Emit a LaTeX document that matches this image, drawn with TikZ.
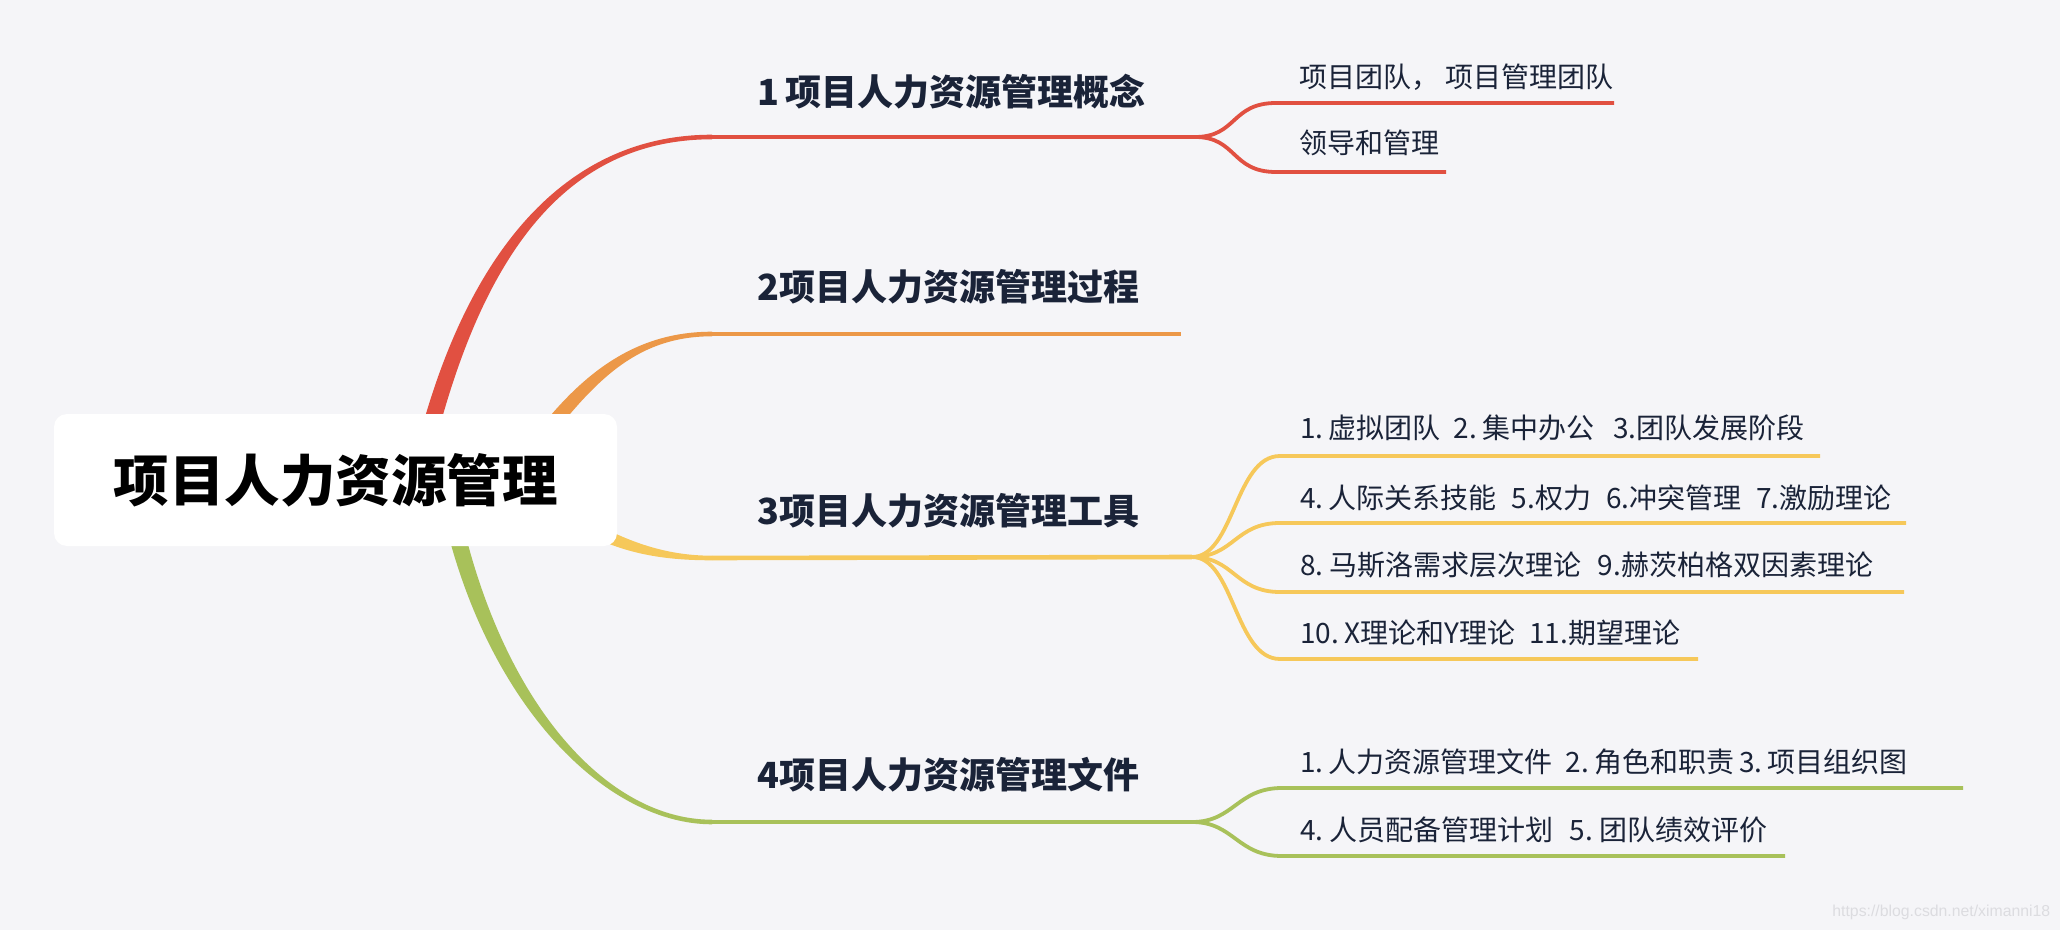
\documentclass[tikz,border=0pt]{standalone}
\usepackage{fontspec}
\setmainfont{Noto Sans CJK SC}
\newfontfamily\wmfont{Liberation Sans}
\usetikzlibrary{calc}
\definecolor{bgc}{HTML}{F5F5F8}
\definecolor{cred}{HTML}{E15041}
\definecolor{corange}{HTML}{EC9848}
\definecolor{cyellow}{HTML}{F6C85A}
\definecolor{cgreen}{HTML}{A8C15A}
\definecolor{ctext}{HTML}{1A2338}
\definecolor{cwm}{HTML}{DCDCE0}
\newcommand\taperbranch[7]{%
  \fill[#7] ($(#1)!#5!90:(#2)$) .. controls ($(#2)!#5!-90:(#1)$) and ($(#3)!#6!90:(#4)$) .. ($(#4)!#6!-90:(#3)$)
    -- ($(#4)!#6!90:(#3)$) .. controls ($(#3)!#6!-90:(#4)$) and ($(#2)!#5!90:(#1)$) .. ($(#1)!#5!-90:(#2)$) -- cycle;}
\tikzset{
  rootbox/.style={fill=white, rounded corners=6.5pt, minimum width=281.5pt, minimum height=66pt, inner sep=0pt,
    font=\fontsize{27.75pt}{30pt}\selectfont\bfseries, text=black},
  topic/.style={anchor=west, inner sep=0pt, font=\fontsize{18pt}{20pt}\selectfont\bfseries, text=ctext},
  subtopic/.style={anchor=west, inner sep=0pt, font=\fontsize{14pt}{16pt}\selectfont, text=ctext},
  mainline/.style={line width=2.3pt},
  subline/.style={line width=1.9pt},
}
\begin{document}
\begin{tikzpicture}[x=0.5pt, y=-0.5pt]
\fill[bgc] (0,0) rectangle (2060,930);
\useasboundingbox (0,0) rectangle (2060,930);

% coordinates for branches
\coordinate (r0) at (420,470); \coordinate (r1) at (468,262); \coordinate (r2) at (560,137); \coordinate (r3) at (712,137);
\coordinate (o0) at (540,440); \coordinate (o1) at (592,372); \coordinate (o2) at (640,334); \coordinate (o3) at (712,334);
\coordinate (y0) at (588,527); \coordinate (y1) at (630,550); \coordinate (y2) at (670,558); \coordinate (y3) at (712,558);
\coordinate (g0) at (445,480); \coordinate (g1) at (482,690); \coordinate (g2) at (600,822); \coordinate (g3) at (712,822);

\coordinate (rf) at (1195,137);
\coordinate (of) at (1181,334);
\coordinate (yf) at (1192,557);
\coordinate (gf) at (1192,822);

% main tapered branches
\taperbranch{r0}{r1}{r2}{r3}{4.25pt}{1.15pt}{cred}
\taperbranch{o0}{o1}{o2}{o3}{3.6pt}{1.15pt}{corange}
\taperbranch{y0}{y1}{y2}{y3}{3.2pt}{1.15pt}{cyellow}
\taperbranch{g0}{g1}{g2}{g3}{4.25pt}{1.15pt}{cgreen}

\draw[mainline, cred] (r3) -- (rf);
\draw[mainline, corange] (o3) -- (of);
\draw[mainline, cyellow] (y3) -- (yf);
\draw[mainline, cgreen] (g3) -- (gf);

% root
\node[rootbox] (root) at (335.5,480) {项目人力资源管理};

% topics
\node[topic] (t1) at (757,92) {1\hspace{3pt}项目人力资源管理概念};
\node[topic] (t2) at (757,287) {2项目人力资源管理过程};
\node[topic] (t3) at (757,511) {3项目人力资源管理工具};
\node[topic] (t4) at (757,775) {4项目人力资源管理文件};

% sub-topic line coordinates
\coordinate (ra) at (1276,103); \coordinate (rae) at (1614,103);
\coordinate (rb) at (1276,172); \coordinate (rbe) at (1446,172);
\coordinate (ya) at (1280,456); \coordinate (yae) at (1820,456);
\coordinate (yb) at (1280,523); \coordinate (ybe) at (1906,523);
\coordinate (yc) at (1280,592); \coordinate (yce) at (1904,592);
\coordinate (yd) at (1280,659); \coordinate (yde) at (1698,659);
\coordinate (ga) at (1282,788); \coordinate (gae) at (1963,788);
\coordinate (gb) at (1282,856); \coordinate (gbe) at (1785,856);

\foreach \f/\s/\e/\c in {rf/ra/rae/cred, rf/rb/rbe/cred, yf/ya/yae/cyellow, yf/yb/ybe/cyellow, yf/yc/yce/cyellow, yf/yd/yde/cyellow, gf/ga/gae/cgreen, gf/gb/gbe/cgreen}{
  \draw[subline, \c] (\f) .. controls ($(\f)+(42,0)$) and ($(\s)+(-45,0)$) .. (\s) -- (\e);
}

% sub-topic texts
\node[subtopic] (sa) at (1299,77) {项目团队，\hspace{3pt}项目管理团队};
\node[subtopic] (sb) at (1299,143) {领导和管理};
\node[subtopic] (sc) at (1300,428) {1.\hspace{2.5pt}虚拟团队\hspace{6.5pt}2.\hspace{2.5pt}集中办公\hspace{9.5pt}3.团队发展阶段};
\node[subtopic] (sd) at (1300,498) {4.\hspace{2.5pt}人际关系技能\hspace{7.5pt}5.权力\hspace{7.5pt}6.冲突管理\hspace{7.5pt}7.激励理论};
\node[subtopic] (se) at (1300,565) {8.\hspace{3pt}马斯洛需求层次理论\hspace{8pt}9.赫茨柏格双因素理论};
\node[subtopic] (sf) at (1300,633) {10.\hspace{2.5pt}X理论和Y理论\hspace{7pt}11.期望理论};
\node[subtopic] (sg) at (1300,762) {1.\hspace{2.5pt}人力资源管理文件\hspace{6.5pt}2.\hspace{2.5pt}角色和职责\hspace{2.5pt}3.\hspace{2.5pt}项目组织图};
\node[subtopic] (sh) at (1300,830) {4.\hspace{3pt}人员配备管理计划\hspace{8pt}5.\hspace{3pt}团队绩效评价};

% watermark
\node[anchor=west, inner sep=0pt, text=cwm, font=\wmfont\fontsize{7.9pt}{9pt}\selectfont] (wm) at (1832,912) {https://blog.csdn.net/ximanni18};
\end{tikzpicture}
\end{document}
